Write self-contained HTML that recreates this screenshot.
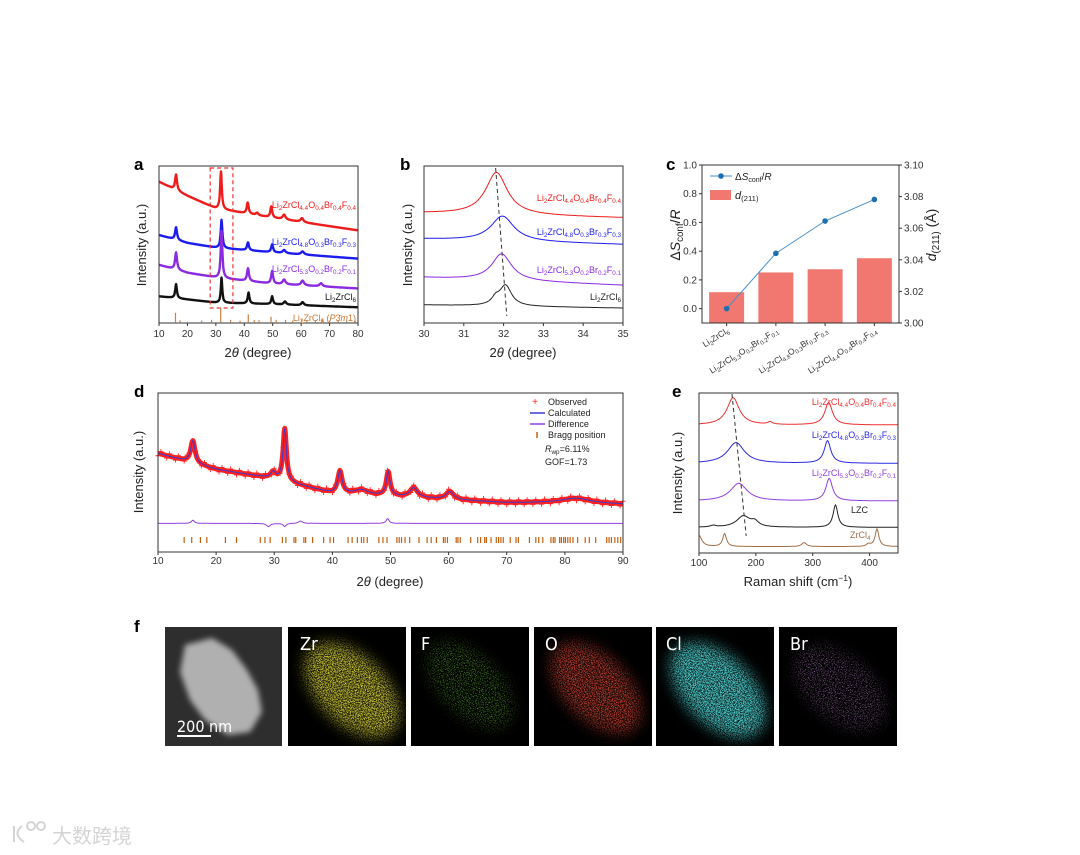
<!DOCTYPE html>
<html><head><meta charset="utf-8"><style>
html,body{margin:0;padding:0;background:#fff}
svg{display:block;font-family:"Liberation Sans",Arial,sans-serif}
</style></head><body>
<svg id="fig" width="1080" height="855" viewBox="0 0 1080 855" xmlns="http://www.w3.org/2000/svg">
<defs>
<filter id="spZr" x="-0.3" y="-0.3" width="1.6" height="1.6"><feTurbulence type="fractalNoise" baseFrequency="1.1" numOctaves="1" seed="2" result="n"/><feColorMatrix in="n" type="matrix" values="0 0 0 0 0.92 0 0 0 0 0.88 0 0 0 0 0.05 4 0 0 0 -1.6" result="c"/><feGaussianBlur in="SourceGraphic" stdDeviation="7" result="m"/><feComposite in="c" in2="m" operator="in"/></filter>
<filter id="spF" x="-0.3" y="-0.3" width="1.6" height="1.6"><feTurbulence type="fractalNoise" baseFrequency="1.1" numOctaves="1" seed="5" result="n"/><feColorMatrix in="n" type="matrix" values="0 0 0 0 0.2 0 0 0 0 0.75 0 0 0 0 0.05 4 0 0 0 -2.1" result="c"/><feGaussianBlur in="SourceGraphic" stdDeviation="7" result="m"/><feComposite in="c" in2="m" operator="in"/></filter>
<filter id="spO" x="-0.3" y="-0.3" width="1.6" height="1.6"><feTurbulence type="fractalNoise" baseFrequency="1.1" numOctaves="1" seed="8" result="n"/><feColorMatrix in="n" type="matrix" values="0 0 0 0 0.9 0 0 0 0 0.08 0 0 0 0 0.05 4 0 0 0 -1.7" result="c"/><feGaussianBlur in="SourceGraphic" stdDeviation="7" result="m"/><feComposite in="c" in2="m" operator="in"/></filter>
<filter id="spCl" x="-0.3" y="-0.3" width="1.6" height="1.6"><feTurbulence type="fractalNoise" baseFrequency="1.1" numOctaves="1" seed="11" result="n"/><feColorMatrix in="n" type="matrix" values="0 0 0 0 0.1 0 0 0 0 0.85 0 0 0 0 0.85 4 0 0 0 -1.5" result="c"/><feGaussianBlur in="SourceGraphic" stdDeviation="7" result="m"/><feComposite in="c" in2="m" operator="in"/></filter>
<filter id="spBr" x="-0.3" y="-0.3" width="1.6" height="1.6"><feTurbulence type="fractalNoise" baseFrequency="1.1" numOctaves="1" seed="14" result="n"/><feColorMatrix in="n" type="matrix" values="0 0 0 0 0.6 0 0 0 0 0.3 0 0 0 0 0.7 4 0 0 0 -2.1" result="c"/><feGaussianBlur in="SourceGraphic" stdDeviation="7" result="m"/><feComposite in="c" in2="m" operator="in"/></filter>
<filter id="blur4"><feGaussianBlur stdDeviation="3"/></filter>
</defs>

<text x="134" y="170" font-size="17" font-weight="bold">a</text>
<text x="400" y="170" font-size="17" font-weight="bold">b</text>
<text x="666" y="170" font-size="17" font-weight="bold">c</text>
<text x="134" y="397" font-size="17" font-weight="bold">d</text>
<text x="672" y="397" font-size="17" font-weight="bold">e</text>
<text x="134" y="632" font-size="17" font-weight="bold">f</text>

<g id="pa"></g>
<g id="pb"></g>
<g id="pc"></g>
<g id="pd"></g>
<g id="pe"></g>

<g>
 <g>
  <rect x="165" y="627" width="117" height="119" fill="#2e2e2e"/>
  <path d="M185,645 L212,638 L232,650 L247,670 L258,690 L262,712 L250,732 L228,735 L205,720 L190,700 L180,672 Z" fill="#b0b0b0" filter="url(#blur4)"/>
  <line x1="177" y1="736" x2="211" y2="736" stroke="#fff" stroke-width="2"/>
  <text x="177" y="732" fill="#fff" font-size="16" font-family="DejaVu Sans Condensed, DejaVu Sans, sans-serif">200 nm</text>
 </g>
 <g><rect x="288" y="627" width="118" height="119" fill="#000"/><ellipse cx="352" cy="690" rx="58" ry="34" transform="rotate(45 352 690)" fill="#fff" filter="url(#spZr)"/><text x="300" y="650" fill="#fff" font-size="18" font-family="DejaVu Sans Condensed, DejaVu Sans, sans-serif">Zr</text></g>
 <g><rect x="411" y="627" width="118" height="119" fill="#000"/><ellipse cx="470" cy="685" rx="54" ry="30" transform="rotate(45 470 685)" fill="#fff" filter="url(#spF)"/><text x="421" y="650" fill="#fff" font-size="18" font-family="DejaVu Sans Condensed, DejaVu Sans, sans-serif">F</text></g>
 <g><rect x="534" y="627" width="118" height="119" fill="#000"/><ellipse cx="596" cy="688" rx="56" ry="32" transform="rotate(45 596 688)" fill="#fff" filter="url(#spO)"/><text x="545" y="650" fill="#fff" font-size="18" font-family="DejaVu Sans Condensed, DejaVu Sans, sans-serif">O</text></g>
 <g><rect x="656" y="627" width="118" height="119" fill="#000"/><ellipse cx="718" cy="690" rx="58" ry="34" transform="rotate(45 718 690)" fill="#fff" filter="url(#spCl)"/><text x="666" y="650" fill="#fff" font-size="18" font-family="DejaVu Sans Condensed, DejaVu Sans, sans-serif">Cl</text></g>
 <g><rect x="779" y="627" width="118" height="119" fill="#000"/><ellipse cx="840" cy="688" rx="54" ry="32" transform="rotate(40 840 688)" fill="#fff" filter="url(#spBr)"/><text x="790" y="650" fill="#fff" font-size="18" font-family="DejaVu Sans Condensed, DejaVu Sans, sans-serif">Br</text></g>
</g>

<g fill="none" stroke="#d4d4d4" stroke-width="2">
 <path d="M14,826 L14,842 M22,826 Q12,834 24,842"/><circle cx="31" cy="826" r="4"/><circle cx="41" cy="826" r="4"/>
 <text x="52" y="843" fill="#d4d4d4" stroke="none" font-size="20" font-family="Noto Sans CJK SC, sans-serif">大数跨境</text>
</g>

<script>
// ---------- data ----------
const aX = [10, 20, 30, 50, 80];
const aRedBase = [90, 81, 73, 67, 59];
const aBlueBase = [56, 51, 48, 45, 41];
const aPurpleBase = [37, 32, 29, 25, 22];
const aBlackBase = [17, 15, 13, 12, 10];
const aRedPeaks = [[16,10,0.4],[31.8,24,0.35],[41.2,7,0.4],[49.5,7,0.4],[54,3,0.6],[60.3,2.5,0.6],[44.5,1.5,0.5]];
const aBluePeaks = [[16,8,0.4],[32,18,0.35],[41.3,5,0.4],[49.8,5,0.4],[54,2,0.6],[60.5,2,0.6]];
const aPurplePeaks = [[16,11,0.4],[32,30,0.35],[41.3,8,0.4],[49.8,8,0.4],[54,3,0.6],[60.5,3,0.6],[67,2,0.6]];
const aBlackPeaks = [[16,9,0.35],[32,16,0.3],[41.5,7,0.35],[49.8,5,0.35],[54.3,2,0.5],[60.5,2,0.5]];
const aRefPos = [15.8,31.7,41.4,49.4,17.4,25,28.5,35.2,38.5,43.5,45.2,51.2,54.5,57,60.2,62,65,67.5,70,73,76,79];
const aRefH = [6,9,5,3.5,1.2,1,1.5,1.5,1,1.3,1.3,1.5,1.5,1,1.8,1,1,2,1,1,1,1];
const aTicks = [10,20,30,40,50,60,70,80];

const bX = [30, 35];
const bRedBase = [70, 67];
const bBlueBase = [53.5, 50];
const bPurpleBase = [29, 24];
const bBlackBase = [11.5, 9.5];
const bRedPeaks = [[31.82,27,0.33]];
const bBluePeaks = [[31.97,16,0.35]];
const bPurplePeaks = [[31.95,17,0.3]];
const bBlackPeaks = [[32.05,13,0.18],[31.8,4,0.12]];
const bTicks = [30,31,32,33,34,35];

const cCats = ["Li_{2}ZrCl_{6}", "Li_{2}ZrCl_{5.3}O_{0.2}Br_{0.2}F_{0.1}", "Li_{2}ZrCl_{4.8}O_{0.3}Br_{0.3}F_{0.3}", "Li_{2}ZrCl_{4.4}O_{0.4}Br_{0.4}F_{0.4}"];
const cDspacing = [3.0195, 3.032, 3.034, 3.041];
const cEntropy = [0.0, 0.385, 0.61, 0.76];
const cLeftTicks = [0.0,0.2,0.4,0.6,0.8,1.0];
const cRightTicks = [3.00,3.02,3.04,3.06,3.08,3.10];

const dX = [10, 20, 30, 40, 50, 60, 70, 80, 90];
const dBase = [62, 52, 46, 37, 35, 33, 31, 31, 30];
const dPeaks = [[16,14,0.45],[29.8,4,0.5],[31.8,33,0.35],[41.3,14,0.45],[49.6,15,0.4],[54,6,0.8],[60.2,5,0.8],[45,3,1.5],[82,3,3]];
const dDiffLevel = 18;
const dDiffPeaks = [[16,2,0.3],[29,-2,0.4],[31.8,-2,0.3],[49.5,3,0.3],[34.5,1.5,0.4]];
const dBragg = [14.5,15.8,17.3,18.4,21.6,23.5,27.6,28.4,29.3,31.4,32,33.4,33.7,35.1,35.4,36.6,38.5,39.6,40.2,42.7,43.4,44.3,45,45.4,46,48,48.7,49.4,51.1,51.5,51.9,52.5,53.3,54.9,56.3,57,57.9,59.1,59.4,59.8,61.3,61.6,62,63.8,65,65.5,66.2,66.5,67.3,68.2,68.6,69,69.4,70.6,71.6,72,73.9,75,75.5,76.2,77.6,78,78.3,79.1,79.4,79.8,80.1,80.5,80.9,81.4,82.2,83.5,84.2,85.3,87.2,87.6,88,88.6,89.1,89.6];
const dBraggLevel = 7.5;
const dTicks = [10,20,30,40,50,60,70,80,90];

const eX = [100, 450];
const eRedBase = [80, 80];
const eBlueBase = [56, 56];
const ePurpleBase = [32.5, 32.5];
const eBlackBase = [16, 16];
const eBrownBase = [4, 4];
const eRedPeaks = [[160,17,13],[328,14,8],[225,1.5,5]];
const eBluePeaks = [[165,13,18],[326,14,7]];
const ePurplePeaks = [[170,11,18],[329,14,7]];
const eBlackPeaks = [[178,7,14],[198,3,8],[340,14,5],[125,1,6]];
const eBrownPeaks = [[100,7,6],[145,8,4],[285,2.5,5],[413,11,4],[398,1.5,4]];
const eTicks = [100,200,300,400];

// ---------- helpers ----------
const NS = "http://www.w3.org/2000/svg";
function mk(tag, attrs, parent) {
  const e = document.createElementNS(NS, tag);
  for (const k in attrs) e.setAttribute(k, attrs[k]);
  parent.appendChild(e);
  return e;
}
// rich text: _{sub} ^{sup} *italic*
function rich(t, s, fs) {
  const re = /(_\{[^}]*\}|\^\{[^}]*\}|\*[^*]*\*)/;
  s.split(re).forEach(part => {
    if (!part) return;
    const sp = document.createElementNS(NS, "tspan");
    if (part[0] === "_" && part[1] === "{") {
      sp.setAttribute("baseline-shift", "-25%"); sp.setAttribute("font-size", (fs * 0.7).toFixed(1)); sp.textContent = part.slice(2, -1);
    } else if (part[0] === "^" && part[1] === "{") {
      sp.setAttribute("baseline-shift", "super"); sp.setAttribute("font-size", (fs * 0.65).toFixed(1)); sp.textContent = part.slice(2, -1);
    } else if (part[0] === "*" && part.length > 1) {
      sp.setAttribute("font-style", "italic"); sp.textContent = part.slice(1, -1);
    } else sp.textContent = part;
    t.appendChild(sp);
  });
}
function lin(d0, d1, r0, r1) { return v => r0 + (v - d0) * (r1 - r0) / (d1 - d0); }
function baseAt(xs, ys, x) {
  if (x <= xs[0]) return ys[0];
  for (let i = 1; i < xs.length; i++) if (x <= xs[i]) { const t = (x - xs[i-1]) / (xs[i] - xs[i-1]); return ys[i-1] + t * (ys[i] - ys[i-1]); }
  return ys[ys.length - 1];
}
function prof(xs, base, peaks, x) {
  let v = baseAt(xs, base, x);
  for (const p of peaks) v += p[1] / (1 + Math.pow((x - p[0]) / p[2], 2));
  return v;
}
function curvePath(xs, base, peaks, x0, x1, step, sx, sy) {
  let d = "";
  for (let x = x0; x <= x1 + 1e-9; x += step) d += (d ? "L" : "M") + sx(x).toFixed(1) + "," + sy(prof(xs, base, peaks, x)).toFixed(1);
  return d;
}
function frame(g, L, T, R, B) {
  const f = mk("rect", {x: L, y: T, width: R - L, height: B - T, fill: "none", stroke: "#333", "stroke-width": 1}, g);
  
  
}
function xTicks(g, ticks, sx, B, ly, fs) {
  ticks.forEach(t => {
    const tk = mk("line", {x1: sx(t), x2: sx(t), y1: B, y2: B + 3, stroke: "#333"}, g);
    
    
    const tl = mk("text", {x: sx(t), y: ly, "font-size": fs, "text-anchor": "middle", fill: "#333"}, g);
    
    
    tl.textContent = t;
  });
}
function label(g, x, y, s, color, anchor, fs, name) {
  fs = fs || 9;
  const t = mk("text", {x: x, y: y, fill: color, "font-size": fs, "text-anchor": anchor || "end"}, g);
  
  
  rich(t, s, fs);
  return t;
}
function ytitle(g, x, y, s, fs) {
  fs = fs || 13;
  const t = mk("text", {x: 0, y: 0, "font-size": fs, "text-anchor": "middle", fill: "#222", transform: "translate(" + x + "," + y + ") rotate(-90)"}, g);
  
  
  rich(t, s, fs);
}
function xtitle(g, x, y, s) {
  const t = mk("text", {x: x, y: y, "font-size": 13, "text-anchor": "middle", fill: "#222"}, g);
  
  
  rich(t, s, 13);
}
const lzc = (a,b,c,d) => "Li_{2}ZrCl_{" + a + "}O_{" + b + "}Br_{" + c + "}F_{" + d + "}";
const TT = "2*θ* (degree)";

// ---------- panel a ----------
(function(){
  const g = document.getElementById("pa");
  const L = 159, R = 358, T = 166, B = 323;
  const sx = lin(10, 80, L, R), sy = lin(0, 100, B, T);
  const series = [[aRedBase, aRedPeaks, "#ee1c1c", "xrd-a-red"], [aBlueBase, aBluePeaks, "#1c1cee", "xrd-a-blue"], [aPurpleBase, aPurplePeaks, "#8a2be2", "xrd-a-purple"], [aBlackBase, aBlackPeaks, "#111", "xrd-a-black"]];
  series.forEach(s => {
    const p = mk("path", {d: curvePath(aX, s[0], s[1], 10, 80, 0.1, sx, sy), fill: "none", stroke: s[2], "stroke-width": 2.4, "stroke-linejoin": "round"}, g);
    
    
  });
  aRefPos.forEach((p, i) => {
    const l = mk("line", {x1: sx(p), x2: sx(p), y1: sy(0.5), y2: sy(0.5 + aRefH[i]), stroke: "#d08040", "stroke-width": 1.2}, g);
    
    
  });
  const box = mk("rect", {x: sx(28), y: 168, width: sx(36) - sx(28), height: 140, fill: "none", stroke: "#ee3333", "stroke-dasharray": "4,3", "stroke-width": 1.2}, g);
  
  
  frame(g, L, T, R, B);
  xTicks(g, aTicks, sx, B, 337, 10);
  label(g, 356, 208, lzc("4.4","0.4","0.4","0.4"), "#ee1c1c", "end", 9, "label-red-composition");
  label(g, 356, 245, lzc("4.8","0.3","0.3","0.3"), "#1c1cee", "end", 9, "label-blue-composition");
  label(g, 356, 272, lzc("5.3","0.2","0.2","0.1"), "#8a2be2", "end", 9, "label-purple-composition");
  label(g, 356, 300, "Li_{2}ZrCl_{6}", "#111", "end", 9, "label-li2zrcl6");
  label(g, 356, 321, "Li_{2}ZrCl_{6} (*P*3̄*m*1)", "#c87533", "end", 9, "label-reference");
  ytitle(g, 146, 245, "Intensity (a.u.)", 13);
  xtitle(g, 258, 357, TT);
})();

// ---------- panel b ----------
(function(){
  const g = document.getElementById("pb");
  const L = 424, R = 623, T = 166, B = 323;
  const sx = lin(30, 35, L, R), sy = lin(0, 100, B, T);
  const series = [[bRedBase, bRedPeaks, "#ee1c1c", "xrd-b-red"], [bBlueBase, bBluePeaks, "#1c1cee", "xrd-b-blue"], [bPurpleBase, bPurplePeaks, "#8a2be2", "xrd-b-purple"], [bBlackBase, bBlackPeaks, "#222", "xrd-b-black"]];
  series.forEach(s => {
    const p = mk("path", {d: curvePath(bX, s[0], s[1], 30, 35, 0.02, sx, sy), fill: "none", stroke: s[2], "stroke-width": 1}, g);
    
    
  });
  const dl = mk("line", {x1: sx(31.8), y1: 168, x2: sx(32.08), y2: 316, stroke: "#333", "stroke-dasharray": "4,3"}, g);
  
  
  frame(g, L, T, R, B);
  xTicks(g, bTicks, sx, B, 337, 10);
  label(g, 621, 201, lzc("4.4","0.4","0.4","0.4"), "#ee1c1c", "end", 9, "label-red-composition");
  label(g, 621, 235, lzc("4.8","0.3","0.3","0.3"), "#1c1cee", "end", 9, "label-blue-composition");
  label(g, 621, 273, lzc("5.3","0.2","0.2","0.1"), "#8a2be2", "end", 9, "label-purple-composition");
  label(g, 621, 300, "Li_{2}ZrCl_{6}", "#222", "end", 9, "label-li2zrcl6");
  ytitle(g, 412, 245, "Intensity (a.u.)", 13);
  xtitle(g, 523, 357, TT);
})();

// ---------- panel c ----------
(function(){
  const g = document.getElementById("pc");
  const L = 702, R = 899, T = 165, B = 323;
  const syL = lin(-0.1, 1.0, B, T), syR = lin(3.0, 3.1, B, T);
  const step = (R - L) / cCats.length;
  const cx = i => L + step * (i + 0.5);
  const bw = 35;
  cDspacing.forEach((v, i) => {
    const r = mk("rect", {x: cx(i) - bw/2, y: syR(v), width: bw, height: B - syR(v), fill: "#f07870"}, g);
    
    
  });
  let d = "";
  cEntropy.forEach((v, i) => { d += (i ? "L" : "M") + cx(i) + "," + syL(v); });
  const ln = mk("path", {d: d, fill: "none", stroke: "#4a90c8", "stroke-width": 1}, g);
  
  
  cEntropy.forEach((v, i) => {
    const c = mk("circle", {cx: cx(i), cy: syL(v), r: 2.8, fill: "#1f6fae"}, g);
    
    
  });
  frame(g, L, T, R, B);
  cLeftTicks.forEach(t => {
    const tk = mk("line", {x1: L - 3, x2: L, y1: syL(t), y2: syL(t), stroke: "#333"}, g);
    
    
    const tl = mk("text", {x: L - 5, y: syL(t) + 3.5, "font-size": 10, "text-anchor": "end", fill: "#333"}, g);
    
    
    tl.textContent = t.toFixed(1);
  });
  cRightTicks.forEach(t => {
    const tk = mk("line", {x1: R, x2: R + 3, y1: syR(t), y2: syR(t), stroke: "#333"}, g);
    
    
    const tl = mk("text", {x: R + 5, y: syR(t) + 3.5, "font-size": 10, "text-anchor": "start", fill: "#333"}, g);
    
    
    tl.textContent = t.toFixed(2);
  });
  cCats.forEach((c, i) => {
    const tk = mk("line", {x1: cx(i), x2: cx(i), y1: B, y2: B + 3, stroke: "#333"}, g);
    
    
    const tl = mk("text", {x: 0, y: 0, "font-size": 8.5, "text-anchor": "end", fill: "#333", transform: "translate(" + (cx(i) + 3) + "," + (B + 9) + ") rotate(-32)"}, g);
    
    
    rich(tl, c, 8.5);
  });
  const ll = mk("line", {x1: 710, x2: 732, y1: 176, y2: 176, stroke: "#4a90c8"}, g);
  
  
  const lc = mk("circle", {cx: 721, cy: 176, r: 2.8, fill: "#1f6fae"}, g);
  
  
  label(g, 735, 180, "Δ*S*_{conf}/*R*", "#222", "start", 10, "legend-entropy");
  const ls = mk("rect", {x: 710, y: 190, width: 21, height: 10, fill: "#f07870"}, g);
  
  
  label(g, 735, 199, "*d*_{(211)}", "#222", "start", 11, "legend-d211");
  ytitle(g, 680, 235, "Δ*S*_{conf}/*R*", 14);
  ytitle(g, 936, 235, "*d*_{(211)} (Å)", 14);
})();

// ---------- panel d ----------
(function(){
  const g = document.getElementById("pd");
  const L = 158, R = 623, T = 393, B = 552;
  const sx = lin(10, 90, L, R), sy = lin(0, 100, B, T);
  const ob = mk("path", {d: curvePath(dX, dBase, dPeaks, 10, 90, 0.1, sx, sy), fill: "none", stroke: "#ff2020", "stroke-width": 5, "stroke-linejoin": "round"}, g);
  
  
  let cr = "";
  for (let x = 10; x <= 90; x += 0.5) {
    const X = sx(x), Y = sy(prof(dX, dBase, dPeaks, x)) + ((Math.round(x * 2) % 3) - 1) * 2.5;
    cr += "M" + (X - 2.5) + "," + Y + "h5M" + X + "," + (Y - 2.5) + "v5";
  }
  const crs = mk("path", {d: cr, stroke: "#ff2020", "stroke-width": 0.9, fill: "none"}, g);
  
  
  const calc = mk("path", {d: curvePath(dX, dBase, dPeaks, 10, 90, 0.1, sx, sy), fill: "none", stroke: "#3a3ad0", "stroke-width": 1}, g);
  
  
  const diff = mk("path", {d: curvePath([10,90], [dDiffLevel, dDiffLevel], dDiffPeaks, 10, 90, 0.1, sx, sy), fill: "none", stroke: "#9040e0", "stroke-width": 1}, g);
  
  
  dBragg.forEach(p => {
    const l = mk("line", {x1: sx(p), x2: sx(p), y1: sy(dBraggLevel) - 3, y2: sy(dBraggLevel) + 3, stroke: "#c06010", "stroke-width": 1.2}, g);
    
    
  });
  frame(g, L, T, R, B);
  xTicks(g, dTicks, sx, B, 564, 10);
  label(g, 535, 405, "+", "#ff2020", "middle", 10, "legend-observed-marker");
  label(g, 548, 405, "Observed", "#222", "start", 9, "legend-observed");
  const l1 = mk("line", {x1: 530, x2: 545, y1: 413, y2: 413, stroke: "#3a3ad0", "stroke-width": 1.5}, g);
  
  
  label(g, 548, 416, "Calculated", "#222", "start", 9, "legend-calculated");
  const l2 = mk("line", {x1: 530, x2: 545, y1: 424, y2: 424, stroke: "#9040e0", "stroke-width": 1.5}, g);
  
  
  label(g, 548, 427, "Difference", "#222", "start", 9, "legend-difference");
  const l3 = mk("line", {x1: 537, x2: 537, y1: 432, y2: 438, stroke: "#c06010", "stroke-width": 1.5}, g);
  
  
  label(g, 548, 438, "Bragg position", "#222", "start", 9, "legend-bragg");
  label(g, 545, 452, "*R*_{wp}=6.11%", "#222", "start", 9, "rwp-value");
  label(g, 545, 465, "GOF=1.73", "#222", "start", 9, "gof-value");
  ytitle(g, 143, 472, "Intensity (a.u.)", 13);
  xtitle(g, 390, 586, TT);
})();

// ---------- panel e ----------
(function(){
  const g = document.getElementById("pe");
  const L = 699, R = 898, T = 393, B = 553;
  const sx = lin(100, 450, L, R), sy = lin(0, 100, B, T);
  const series = [[eRedBase, eRedPeaks, "#ee3030", "raman-red"], [eBlueBase, eBluePeaks, "#2a2ae0", "raman-blue"], [ePurpleBase, ePurplePeaks, "#9040e0", "raman-purple"], [eBlackBase, eBlackPeaks, "#222", "raman-lzc"], [eBrownBase, eBrownPeaks, "#a0704a", "raman-zrcl4"]];
  series.forEach(s => {
    const p = mk("path", {d: curvePath(eX, s[0], s[1], 100, 450, 1, sx, sy), fill: "none", stroke: s[2], "stroke-width": 1}, g);
    
    
  });
  const dl = mk("line", {x1: sx(158), y1: 394, x2: sx(183), y2: 536, stroke: "#333", "stroke-dasharray": "4,3"}, g);
  
  
  frame(g, L, T, R, B);
  xTicks(g, eTicks, sx, B, 566, 10);
  label(g, 896, 405, lzc("4.4","0.4","0.4","0.4"), "#ee3030", "end", 9, "label-red-composition");
  label(g, 896, 438, lzc("4.8","0.3","0.3","0.3"), "#2a2ae0", "end", 9, "label-blue-composition");
  label(g, 896, 476, lzc("5.3","0.2","0.2","0.1"), "#9040e0", "end", 9, "label-purple-composition");
  label(g, 851, 513, "LZC", "#222", "start", 9, "label-lzc");
  label(g, 850, 538, "ZrCl_{4}", "#a0704a", "start", 9, "label-zrcl4");
  ytitle(g, 682, 473, "Intensity (a.u.)", 13);
  xtitle(g, 798, 586, "Raman shift (cm^{−1})");
})();
</script>
</svg>
</body></html>
